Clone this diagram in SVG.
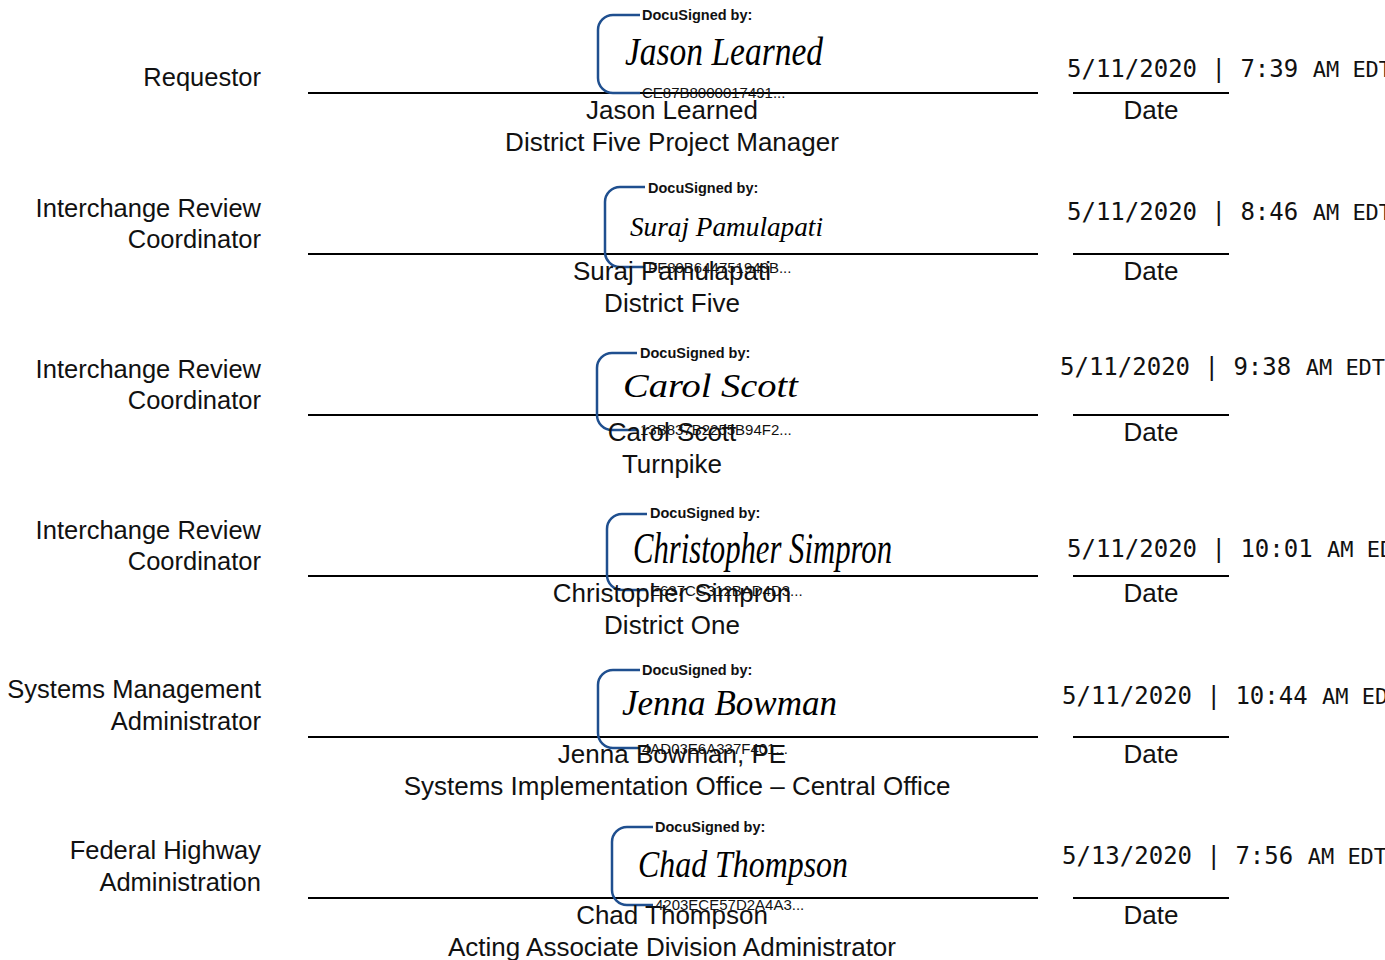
<svg xmlns="http://www.w3.org/2000/svg" width="1385" height="960" viewBox="0 0 1385 960">
<style>
.lbl{font-family:"Liberation Sans",Arial,sans-serif;font-size:25.5px;fill:#111;text-anchor:end}
.nm{font-family:"Liberation Sans",Arial,sans-serif;font-size:26px;fill:#111;text-anchor:middle}
.dt{font-family:"DejaVu Sans Mono","Liberation Mono",monospace;font-size:24px;fill:#111}
.dt .s{font-size:22px}
.ln{stroke:#000;stroke-width:2;fill:none}
.br{stroke:#1f4f8f;stroke-width:2.5;fill:none}
.ds{font-family:"Liberation Sans",Arial,sans-serif;font-size:14.5px;font-weight:bold;fill:#111}
.hs{font-family:"Liberation Sans",Arial,sans-serif;font-size:15px;fill:#111}
.sg{font-family:"Liberation Serif","DejaVu Serif",serif;font-style:italic;fill:#000}
</style>
<rect width="1385" height="960" fill="#fff"/>

<g id="row1">
<text class="lbl" x="261" y="86">Requestor</text>
<line class="ln" x1="308" y1="93" x2="1038" y2="93"/>
<path class="br" d="M640,15 H613 A15,15 0 0 0 598,30 V78 A15,15 0 0 0 613,93 H640"/>
<text class="ds" x="642" y="20">DocuSigned by:</text>
<text class="sg" x="625" y="65" font-size="40" textLength="198" lengthAdjust="spacingAndGlyphs">Jason Learned</text>
<text class="hs" x="642" y="98">CE87B8000017491...</text>
<text class="nm" x="672" y="119">Jason Learned</text>
<text class="nm" x="672" y="151">District Five Project Manager</text>
<text class="dt" x="1067" y="77">5/11/2020 | 7:39 <tspan class="s">AM EDT</tspan></text>
<line class="ln" x1="1073" y1="93" x2="1229" y2="93"/>
<text class="nm" x="1151" y="119">Date</text>
</g>

<g id="row2">
<text class="lbl" x="261" y="217">Interchange Review</text>
<text class="lbl" x="261" y="248">Coordinator</text>
<line class="ln" x1="308" y1="254" x2="1038" y2="254"/>
<path class="br" d="M645,187 H620 A15,15 0 0 0 605,202 V252 A15,15 0 0 0 620,267 H645"/>
<text class="ds" x="648" y="193">DocuSigned by:</text>
<text class="sg" x="630" y="236" font-size="28" textLength="193" lengthAdjust="spacingAndGlyphs">Suraj Pamulapati</text>
<text class="nm" x="672" y="280">Suraj Pamulapati</text>
<text class="hs" x="648" y="273">FE89B644751943B...</text>
<text class="nm" x="672" y="312">District Five</text>
<text class="dt" x="1067" y="220">5/11/2020 | 8:46 <tspan class="s">AM EDT</tspan></text>
<line class="ln" x1="1073" y1="254" x2="1229" y2="254"/>
<text class="nm" x="1151" y="280">Date</text>
</g>

<g id="row3">
<text class="lbl" x="261" y="378">Interchange Review</text>
<text class="lbl" x="261" y="409">Coordinator</text>
<line class="ln" x1="308" y1="415" x2="1038" y2="415"/>
<path class="br" d="M637,353 H612 A15,15 0 0 0 597,368 V415 A15,15 0 0 0 612,430 H637"/>
<text class="ds" x="640" y="358">DocuSigned by:</text>
<text class="sg" x="623" y="397" font-size="34" textLength="175" lengthAdjust="spacingAndGlyphs">Carol Scott</text>
<text class="nm" x="672" y="441">Carol Scott</text>
<text class="hs" x="640" y="435">13B837B2255B94F2...</text>
<text class="nm" x="672" y="473">Turnpike</text>
<text class="dt" x="1060" y="375">5/11/2020 | 9:38 <tspan class="s">AM EDT</tspan></text>
<line class="ln" x1="1073" y1="415" x2="1229" y2="415"/>
<text class="nm" x="1151" y="441">Date</text>
</g>

<g id="row4">
<text class="lbl" x="261" y="539">Interchange Review</text>
<text class="lbl" x="261" y="570">Coordinator</text>
<line class="ln" x1="308" y1="576" x2="1038" y2="576"/>
<path class="br" d="M647,514 H622 A15,15 0 0 0 607,529 V575 A15,15 0 0 0 622,590 H647"/>
<text class="ds" x="650" y="518">DocuSigned by:</text>
<text class="sg" x="633" y="563" font-size="44" textLength="259" lengthAdjust="spacingAndGlyphs">Christopher Simpron</text>
<text class="nm" x="672" y="602">Christopher Simpron</text>
<text class="hs" x="650" y="596">E637CC312BAD4D3...</text>
<text class="nm" x="672" y="634">District One</text>
<text class="dt" x="1067" y="557">5/11/2020 | 10:01 <tspan class="s">AM EDT</tspan></text>
<line class="ln" x1="1073" y1="576" x2="1229" y2="576"/>
<text class="nm" x="1151" y="602">Date</text>
</g>

<g id="row5">
<text class="lbl" x="261" y="698">Systems Management</text>
<text class="lbl" x="261" y="730">Administrator</text>
<line class="ln" x1="308" y1="737" x2="1038" y2="737"/>
<path class="br" d="M640,670 H613 A15,15 0 0 0 598,685 V733 A15,15 0 0 0 613,748 H640"/>
<text class="ds" x="642" y="675">DocuSigned by:</text>
<text class="sg" x="622" y="715" font-size="36" textLength="215" lengthAdjust="spacingAndGlyphs">Jenna Bowman</text>
<text class="nm" x="672" y="763">Jenna Bowman, PE</text>
<text class="hs" x="642" y="754">4AD03E6A337F401...</text>
<text class="nm" x="677" y="795">Systems Implementation Office – Central Office</text>
<text class="dt" x="1062" y="704">5/11/2020 | 10:44 <tspan class="s">AM EDT</tspan></text>
<line class="ln" x1="1073" y1="737" x2="1229" y2="737"/>
<text class="nm" x="1151" y="763">Date</text>
</g>

<g id="row6">
<text class="lbl" x="261" y="859">Federal Highway</text>
<text class="lbl" x="261" y="891">Administration</text>
<line class="ln" x1="308" y1="898" x2="1038" y2="898"/>
<path class="br" d="M653,827 H627 A15,15 0 0 0 612,842 V890 A15,15 0 0 0 627,905 H653"/>
<text class="ds" x="655" y="832">DocuSigned by:</text>
<text class="sg" x="638" y="877" font-size="38" textLength="210" lengthAdjust="spacingAndGlyphs">Chad Thompson</text>
<text class="nm" x="672" y="924">Chad Thompson</text>
<text class="hs" x="655" y="910">4203ECE57D2A4A3...</text>
<text class="nm" x="672" y="956">Acting Associate Division Administrator</text>
<text class="dt" x="1062" y="864">5/13/2020 | 7:56 <tspan class="s">AM EDT</tspan></text>
<line class="ln" x1="1073" y1="898" x2="1229" y2="898"/>
<text class="nm" x="1151" y="924">Date</text>
</g>
</svg>
